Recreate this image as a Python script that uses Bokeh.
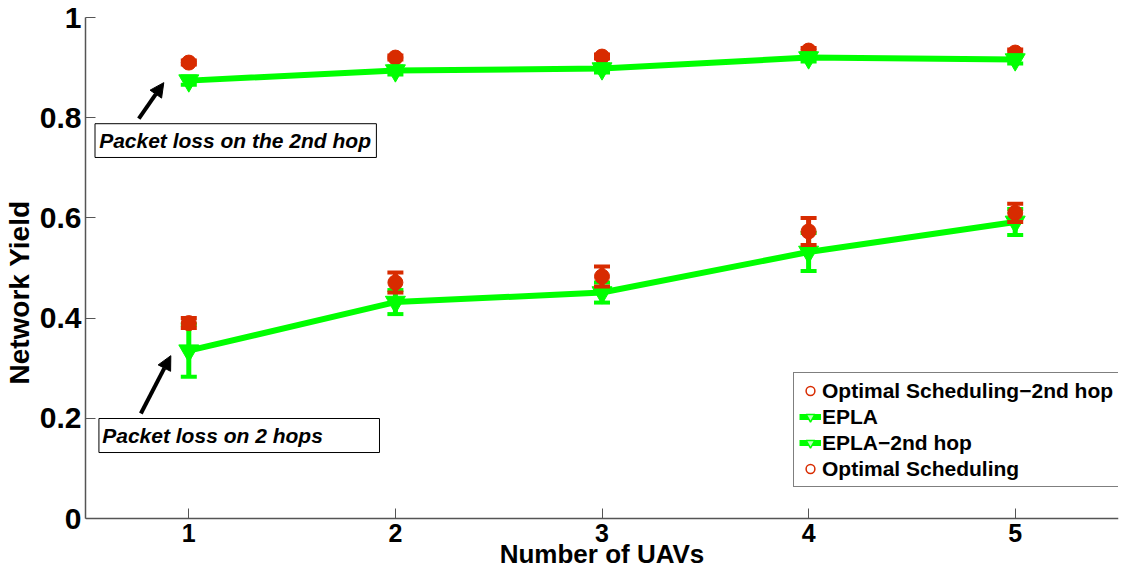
from bokeh.plotting import figure
from bokeh.models import (ColumnDataSource, Range1d, FixedTicker, Legend, LegendItem,
                          Arrow, NormalHead, Label)
from bokeh.embed import file_html
from bokeh.resources import INLINE

# ---------------- data ----------------
uavs = [1, 2, 3, 4, 5]

opt2 = [0.910, 0.920, 0.922, 0.934, 0.930]          # Optimal Scheduling-2nd hop
opt2_err = [0.004, 0.004, 0.004, 0.005, 0.006]

epla = [0.335, 0.432, 0.451, 0.532, 0.592]          # EPLA
epla_err = [0.052, 0.024, 0.020, 0.038, 0.026]

epla2 = [0.874, 0.894, 0.898, 0.920, 0.916]         # EPLA-2nd hop
epla2_err = [0.008, 0.008, 0.008, 0.008, 0.008]

opt = [0.390, 0.471, 0.483, 0.573, 0.610]           # Optimal Scheduling
opt_err = [0.010, 0.020, 0.020, 0.027, 0.018]

yticks = [0, 0.2, 0.4, 0.6, 0.8, 1]
ytick_labels = ["0", "0.2", "0.4", "0.6", "0.8", "1"]
xticks = [1, 2, 3, 4, 5]
xtick_labels = ["1", "2", "3", "4", "5"]

x_title = "Number of UAVs"
y_title = "Network Yield"

legend_labels = ["Optimal Scheduling\u22122nd hop", "EPLA", "EPLA\u22122nd hop", "Optimal Scheduling"]

note_top = "Packet loss on the 2nd hop"
note_bottom = "Packet loss on 2 hops"

RED = "#D82B00"
GREEN = "#00FF00"
FONT = "Liberation Sans"

# ---------------- figure ----------------
# the frame reaches the bottom of the canvas; the x axis is pinned at y = 0
p = figure(width=1120, height=567, output_backend="svg", toolbar_location=None,
           x_range=Range1d(0.5, 5.5), y_range=Range1d(-0.0978, 1),
           min_border_left=85, min_border_right=2, min_border_top=17, min_border_bottom=0)
p.outline_line_color = None
p.xgrid.visible = False
p.ygrid.visible = False
p.background_fill_color = "white"

for ax in (p.xaxis[0], p.yaxis[0]):
    ax.axis_line_color = "#555555"
    ax.axis_line_width = 1.5
    ax.major_tick_line_color = "#555555"
    ax.major_tick_in = 10
    ax.major_tick_out = 0
    ax.minor_tick_line_color = None
    ax.major_label_text_font = FONT
    ax.major_label_text_font_style = "bold"
    ax.major_label_text_color = "black"
    ax.axis_label_text_font = FONT
    ax.axis_label_text_font_style = "bold"
    ax.axis_label_text_color = "black"

p.xaxis.fixed_location = 0
p.yaxis.bounds = (0, 1)

p.yaxis.major_label_text_font_size = "30px"
p.xaxis.major_label_text_font_size = "25px"
p.yaxis.axis_label_text_font_size = "28px"

p.yaxis.ticker = FixedTicker(ticks=yticks)
p.yaxis.major_label_overrides = dict(zip(yticks, ytick_labels))
p.xaxis.ticker = FixedTicker(ticks=xticks)
p.xaxis.major_label_overrides = dict(zip(xticks, xtick_labels))
p.yaxis.axis_label = y_title
p.yaxis.major_label_standoff = 4
p.yaxis.axis_label_standoff = 2
p.xaxis.major_label_standoff = 5

# x axis title placed just below the tick labels
p.add_layout(Label(x=3.0, y=-0.0405, text=x_title, text_font=FONT, text_font_style="bold",
                   text_font_size="26px", text_align="center", text_baseline="top",
                   text_color="black"))


def series(y, err, color, marker, size, with_line, legend_glyph):
    src = ColumnDataSource(dict(x=uavs, y=y,
                                lo=[a - b for a, b in zip(y, err)],
                                hi=[a + b for a, b in zip(y, err)]))
    rends = []
    # small legend glyph, drawn first so the data markers hide it
    if legend_glyph == "circle":
        rends.append(p.scatter("x", "y", source=src, marker="circle", size=11, fill_color=None,
                               line_color=color, line_width=1.5))
    if with_line:
        rends.insert(0, p.line("x", "y", source=src, line_color=color, line_width=6))
    if legend_glyph == "tri":
        rends.append(p.scatter("x", "y", source=src, marker="inverted_triangle", size=9,
                               fill_color="#bbffbb", line_color=color, line_width=1.5))
    p.segment(x0="x", y0="lo", x1="x", y1="hi", source=src, line_color=color, line_width=5)
    p.scatter("x", "lo", source=src, marker="dash", size=16, line_color=color, line_width=4)
    p.scatter("x", "hi", source=src, marker="dash", size=16, line_color=color, line_width=4)
    p.scatter("x", "y", source=src, marker=marker, size=size, fill_color=color, line_color=color)
    return rends


r_opt2 = series(opt2, opt2_err, RED, "circle", 15, False, "circle")
r_epla = series(epla, epla_err, GREEN, "inverted_triangle", 20, True, "tri")
r_epla2 = series(epla2, epla2_err, GREEN, "inverted_triangle", 20, True, "tri")
r_opt = series(opt, opt_err, RED, "circle", 15, False, "circle")

legend = Legend(items=[LegendItem(label=legend_labels[0], renderers=r_opt2),
                       LegendItem(label=legend_labels[1], renderers=r_epla),
                       LegendItem(label=legend_labels[2], renderers=r_epla2),
                       LegendItem(label=legend_labels[3], renderers=r_opt)],
                location=(708, 80))
legend.label_text_font = FONT
legend.label_text_font_style = "bold"
legend.label_text_font_size = "21px"
legend.label_text_color = "black"
legend.label_height = 25
legend.glyph_height = 25
legend.glyph_width = 22
legend.spacing = 1
legend.padding = 5
legend.margin = 0
legend.label_standoff = 1
legend.border_line_color = "black"
legend.border_line_width = 1
legend.background_fill_alpha = 1
p.add_layout(legend)

# annotation boxes
p.quad(left=[0.546, 0.565], right=[1.908, 1.923], bottom=[0.7206, 0.1317], top=[0.788, 0.1996],
       fill_color="white", line_color="black", line_width=1)
for txt, x, y in ((note_top, 0.566, 0.754), (note_bottom, 0.581, 0.166)):
    p.add_layout(Label(x=x, y=y, text=txt, text_font=FONT, text_font_style="bold italic",
                       text_font_size="21px", text_baseline="middle", text_align="left",
                       text_color="black"))

for (x0, y0, x1, y1) in ((0.758, 0.798, 0.879, 0.870), (0.768, 0.2096, 0.913, 0.325)):
    p.add_layout(Arrow(x_start=x0, y_start=y0, x_end=x1, y_end=y1, line_width=4,
                       line_color="black",
                       end=NormalHead(size=14, fill_color="black", line_color="black")))

open("out.html", "w").write(file_html(p, INLINE))
